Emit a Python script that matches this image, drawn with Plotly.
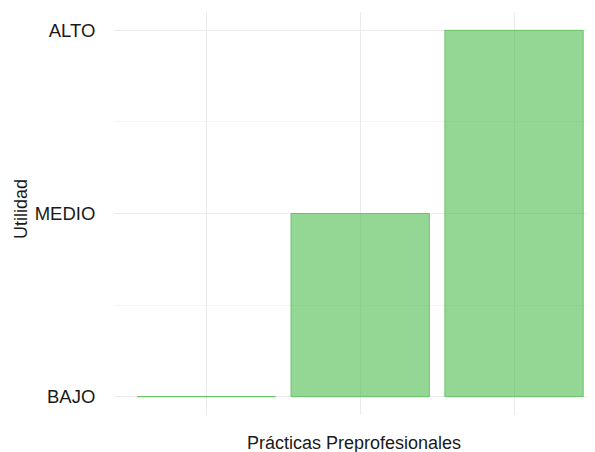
import plotly.graph_objects as go

categorias = ["1", "2", "3"]
niveles = [0, 1, 2]
etiquetas_y = ["BAJO", "MEDIO", "ALTO"]

FONT = "Liberation Sans, Arial, sans-serif"

# page body has an 8px margin: compensate so the plot lands at the reference position
OFF = 8
W, H = 595 - OFF, 452 - OFF
L, T, R, B = 114 - OFF, 12 - OFF, 0, 37
pw, ph = W - L - R, H - T - B


def px_to_paper(sx, sy):
    return (sx - 114) / pw, (415 - sy) / ph


fig = go.Figure()
fig.add_trace(go.Bar(
    x=[0, 1, 2],
    y=niveles,
    width=0.9,
    marker=dict(color="rgba(60,180,60,0.55)",
                line=dict(color="rgba(60,180,60,0.6)", width=1)),
    hoverinfo="skip",
))

tx, ty = px_to_paper(354, 443)
ux, uy = px_to_paper(21, 209)

fig.update_layout(
    width=W, height=H,
    margin=dict(l=L, r=R, t=T, b=B, autoexpand=False),
    paper_bgcolor="white", plot_bgcolor="white",
    showlegend=False,
    font=dict(family=FONT, size=18, color="#1a1a1a"),
    xaxis=dict(range=[-0.6, 2.526], tickvals=[0, 1, 2],
               showticklabels=False, showgrid=True, gridcolor="#ebebeb", gridwidth=1,
               zeroline=False, showline=False),
    yaxis=dict(range=[-0.1, 2.1], tickvals=[0, 1, 2], ticktext=etiquetas_y,
               showgrid=True, gridcolor="#ebebeb", gridwidth=1,
               ticks="outside", ticklen=14, tickcolor="rgba(0,0,0,0)",
               tickfont=dict(size=18.5, color="#1a1a1a"),
               minor=dict(tickvals=[0.5, 1.5], showgrid=True, gridcolor="#f5f5f5", gridwidth=1),
               zeroline=False, showline=False),
    annotations=[
        dict(text="Prácticas Preprofesionales", x=tx, y=ty, xref="paper", yref="paper",
             xanchor="center", yanchor="middle", showarrow=False, font=dict(size=18)),
        dict(text="Utilidad", x=ux, y=uy, xref="paper", yref="paper", textangle=-90,
             xanchor="center", yanchor="middle", showarrow=False, font=dict(size=18)),
    ],
)
fig.write_html("out.html")
